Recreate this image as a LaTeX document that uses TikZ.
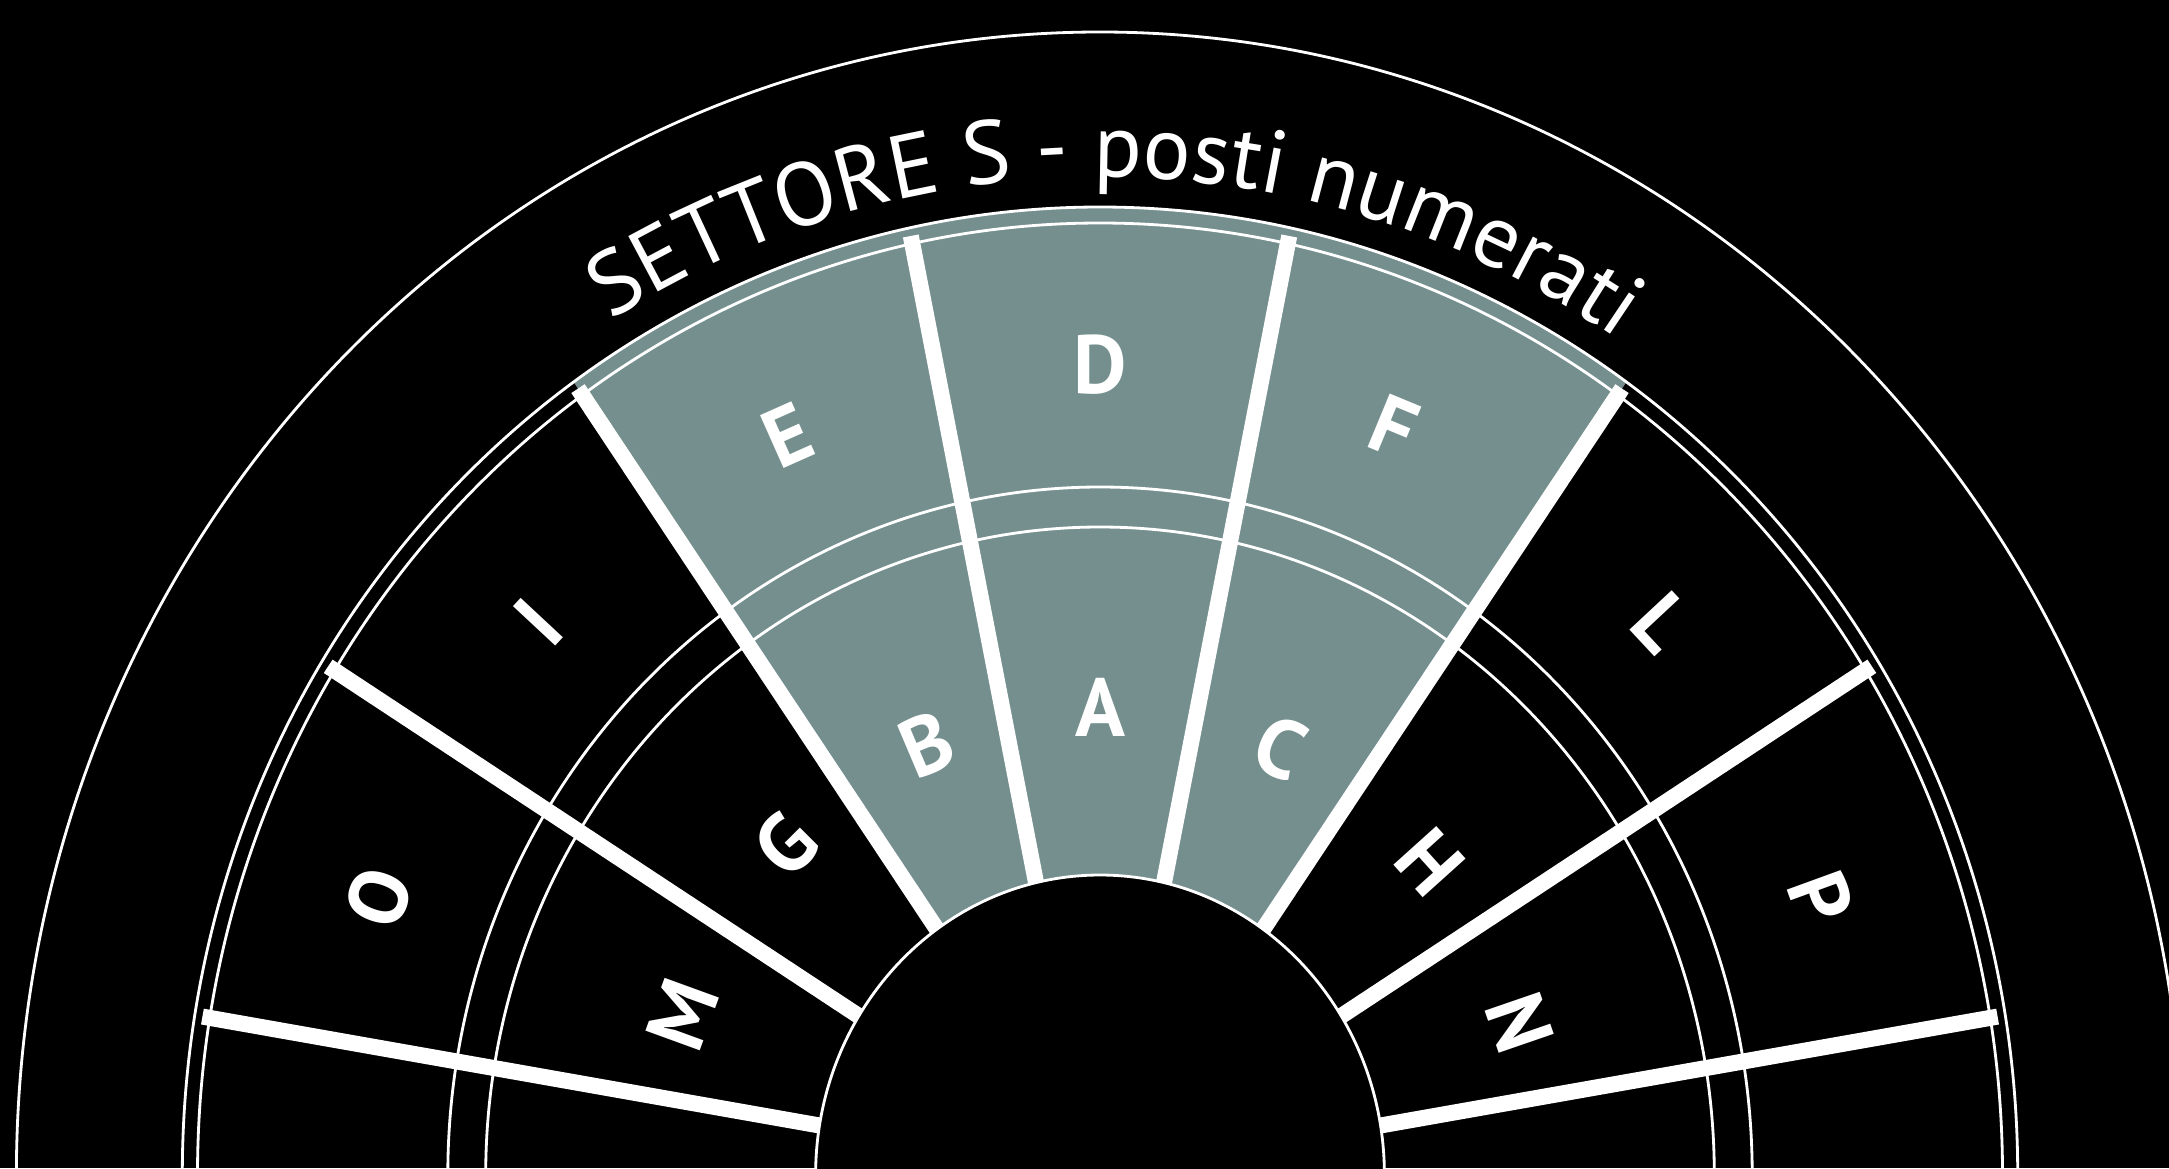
\documentclass[tikz,border=0pt]{standalone}
\usepackage{fontspec}
\setmainfont{PT Sans}
\usepackage{tikz}
\usetikzlibrary{decorations.text}

\definecolor{settore}{RGB}{116,143,142}
\newcommand{\titolo}{\fontsize{25.5}{28}\selectfont}

\tikzset{
  anello/.style={draw=white, line width=0.8pt},
  divisorio/.style={draw=white, line width=1.6mm},
  lettera/.style={text=white, inner sep=0pt, font=\bfseries\fontsize{23.5}{24}\selectfont}
}

\begin{document}
\begin{tikzpicture}
    % Sfondo
    \fill[black] (0,0) rectangle (21.69,11.68);
    \useasboundingbox (0,0) rectangle (21.69,11.68);

    \begin{scope}[shift={(11,-0.07)}]
    \coordinate (c) at (0,0);

    % Settore S
    \fill[settore] (55:2.844 and 3) -- (55:9.177 and 9.68)
        arc[start angle=55, end angle=125, x radius=9.177, y radius=9.68]
        -- (125:2.844 and 3)
        arc[start angle=125, end angle=55, x radius=2.844, y radius=3] -- cycle;

    % Anelli
    \draw[anello] (c) ellipse [x radius=10.836, y radius=11.43];
    \draw[anello] (c) ellipse [x radius=9.177, y radius=9.68];
    \draw[anello] (c) ellipse [x radius=9.025, y radius=9.52];
    \draw[anello] (c) ellipse [x radius=6.522, y radius=6.88];
    \draw[anello] (c) ellipse [x radius=6.143, y radius=6.48];

    % Divisori
    \draw[divisorio] (9.5:2.844 and 3) -- (9.5:9.101 and 9.6);
    \draw[divisorio] (32:2.844 and 3) -- (32:9.101 and 9.6);
    \draw[divisorio] (55:2.844 and 3) -- (55:9.101 and 9.6);
    \draw[divisorio] (77:2.844 and 3) -- (78:9.101 and 9.6);
    \draw[divisorio] (103:2.844 and 3) -- (102:9.101 and 9.6);
    \draw[divisorio] (125:2.844 and 3) -- (125:9.101 and 9.6);
    \draw[divisorio] (148:2.844 and 3) -- (148:9.101 and 9.6);
    \draw[divisorio] (170.5:2.844 and 3) -- (170.5:9.101 and 9.6);

    % Centro
    \draw[anello, fill=black] (c) ellipse [x radius=2.844, y radius=3];

    % Titolo
    \path[decorate, decoration={text along path, text align=center, text color=white,
        text={|\titolo|SETTORE S - posti numerati}}]
        (149:9.461 and 9.98) arc[start angle=149, end angle=29, x radius=9.461, y radius=9.98];

    % Lettere
    \node[lettera, rotate=-70] (P) at (20:7.679 and 8.1) {P};
    \node[lettera, rotate=-47] (L) at (43:7.679 and 8.1) {L};
    \node[lettera, rotate=-22.5] (F) at (67.5:7.679 and 8.1) {F};
    \node[lettera] (D) at (90:7.679 and 8.1) {D};
    \node[lettera, rotate=24] (E) at (114:7.679 and 8.1) {E};
    \node[lettera, rotate=47] (I) at (137:7.679 and 8.1) {I};
    \node[lettera, rotate=70] (O) at (160:7.679 and 8.1) {O};

    \node[lettera, rotate=-71] (N) at (19:4.437 and 4.68) {N};
    \node[lettera, rotate=-48] (H) at (42:4.437 and 4.68) {H};
    \node[lettera, rotate=-24] (C) at (66:4.437 and 4.68) {C};
    \node[lettera] (A) at (90:4.437 and 4.68) {A};
    \node[lettera, rotate=23] (B) at (113:4.437 and 4.68) {B};
    \node[lettera, rotate=45] (G) at (135:4.437 and 4.68) {G};
    \node[lettera, rotate=70] (M) at (160:4.437 and 4.68) {M};
    \end{scope}
\end{tikzpicture}
\end{document}
